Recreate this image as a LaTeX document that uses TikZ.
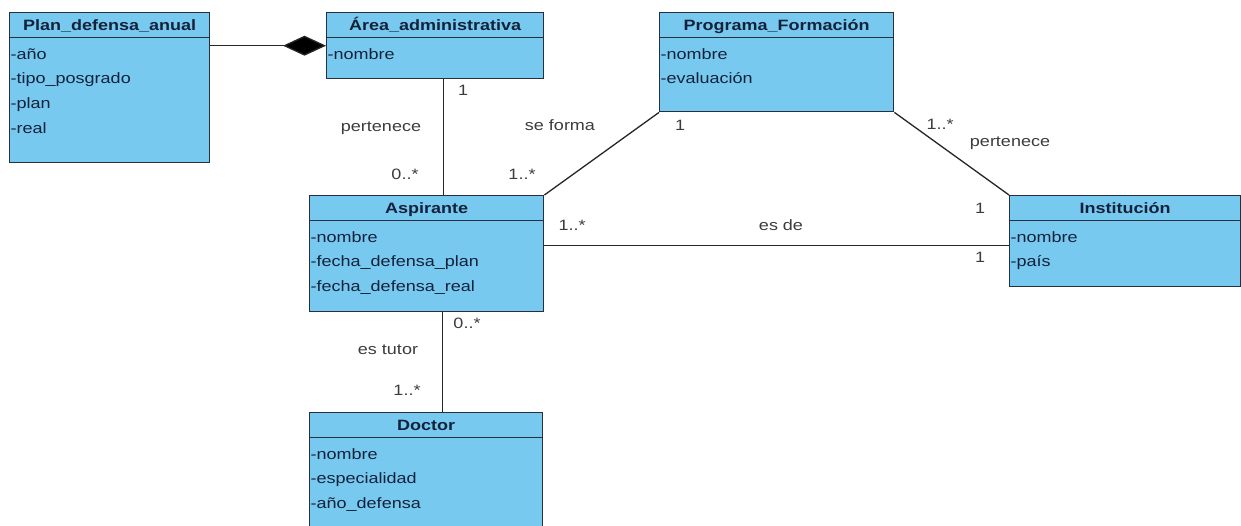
\documentclass[tikz,border=0pt]{standalone}
\usepackage{fontspec}
\setmainfont{Liberation Sans}[FakeStretch=1.2]
\usetikzlibrary{arrows.meta}

\definecolor{classfill}{RGB}{120,201,240}
\definecolor{classborder}{RGB}{38,48,60}
\definecolor{classtext}{RGB}{18,34,58}
\definecolor{labeltext}{RGB}{60,60,60}

\tikzset{
  classbox/.style={draw=classborder, fill=classfill, line width=1.4pt, inner sep=0pt},
  classline/.style={draw=classborder, line width=1.4pt},
  classtitle/.style={font=\fontsize{15}{18}\selectfont\bfseries, text=classtext, inner sep=0pt},
  attr/.style={font=\fontsize{15}{18}\selectfont, text=classtext, inner sep=0pt},
  assoc/.style={draw=black!85, line width=1.3pt},
  lbl/.style={font=\fontsize{15}{18}\selectfont, text=labeltext, inner sep=0pt, text height=10pt, text depth=2pt},
}

% #1 name, #2 top-left corner, #3 width, #4 height, #5 title, #6 attributes
\newcommand\umlclass[6]{%
  \node[classbox, minimum width=#3, minimum height=#4, anchor=north west] (#1) at #2 {};
  \draw[classline] ([yshift=-25.5]#1.north west) -- ([yshift=-25.5]#1.north east);
  \node[classtitle, anchor=base] (#1-title) at ([yshift=-18.5]#1.north) {#5};
  \foreach \attr [count=\i] in {#6} {
    \node[attr, anchor=base west] (#1-attr\i) at ([xshift=1.5, yshift={-47-(\i-1)*24.7}]#1.north west) {\attr};
  }
}

\begin{document}
\begin{tikzpicture}[x=1pt, y=-1pt]
  \useasboundingbox (0,0) rectangle (1241,525);
  \clip (0,0) rectangle (1241,525);
  \fill[white] (0,0) rectangle (1241,525);

  % classes
  \umlclass{plan}{(9,12)}{200}{150}{Plan\_defensa\_anual}{-año,-tipo\_posgrado,-plan,-real}
  \umlclass{area}{(326,12)}{217}{66}{Área\_administrativa}{-nombre}
  \umlclass{prog}{(659,12)}{234}{99}{Programa\_Formación}{-nombre,-evaluación}
  \umlclass{asp}{(309,195)}{234}{116}{Aspirante}{-nombre,-fecha\_defensa\_plan,-fecha\_defensa\_real}
  \umlclass{inst}{(1009,195)}{231}{91}{Institución}{-nombre,-país}
  \umlclass{doc}{(309,412)}{233}{130}{Doctor}{-nombre,-especialidad,-año\_defensa}

  % composition
  \draw[assoc, -{Diamond[length=43pt, width=20pt, fill=black]}] (plan.east |- area.west) -- (area.west);

  % associations
  \draw[assoc] ([xshift=8.5]area.south) -- ([xshift=8.5]area.south |- asp.north);
  \draw[assoc] (prog.south west) -- (asp.north east);
  \draw[assoc] (prog.south east) -- (inst.north west);
  \draw[assoc] ([yshift=-4]inst.west -| asp.east) -- ([yshift=-4]inst.west);
  \draw[assoc] ([xshift=16]asp.south) -- ([xshift=16]asp.south |- doc.north);

  % association names and multiplicities
  \node[lbl] (m-area) at (463,91) {1};
  \node[lbl] (n-pert1) at (381,127) {pertenece};
  \node[lbl] (m-asp1) at (405,175) {0..*};
  \node[lbl] (m-asp2) at (522,175) {1..*};
  \node[lbl] (n-forma) at (560,126) {se forma};
  \node[lbl] (m-prog1) at (680,126) {1};
  \node[lbl] (m-prog2) at (940,125) {1..*};
  \node[lbl] (n-pert2) at (1010,142) {pertenece};
  \node[lbl] (m-inst1) at (980,209) {1};
  \node[lbl] (m-asp3) at (572,226) {1..*};
  \node[lbl] (n-esde) at (781,226) {es de};
  \node[lbl] (m-inst2) at (980,258) {1};
  \node[lbl] (m-asp4) at (467,324) {0..*};
  \node[lbl] (n-tutor) at (388,350) {es tutor};
  \node[lbl] (m-doc) at (407,391) {1..*};
\end{tikzpicture}
\end{document}
